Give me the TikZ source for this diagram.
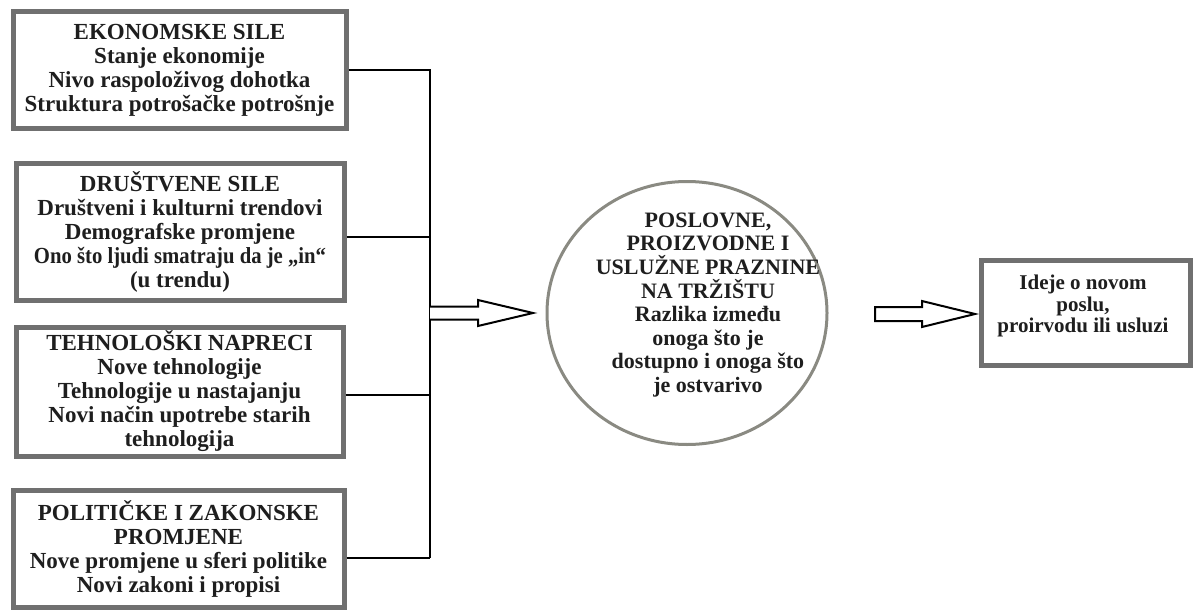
\documentclass[tikz,border=0pt]{standalone}
\usepackage{fontspec}
\setmainfont{Liberation Serif}
\usetikzlibrary{shapes.geometric}
\definecolor{boxgray}{HTML}{707070}
\definecolor{ringgray}{HTML}{8A8A82}
\definecolor{ink}{HTML}{1E1E1E}
\begin{document}
\begin{tikzpicture}[x=1pt,y=-1pt,
  forcebox/.style={draw=boxgray, line width=5pt, fill=white, inner sep=0pt, align=center,
    text=ink, font=\fontsize{23}{24}\selectfont\bfseries},
  plaintext/.style={align=center, text=ink, inner sep=0pt},
  conn/.style={draw=black, line width=2.8pt},
  hollow/.style={draw=black, line width=2pt, fill=white, line join=miter}]
\useasboundingbox (0,0) rectangle (1195,610);
% boxes
\node[forcebox, minimum width=333pt, minimum height=116pt] (b1) at (179.5,70)
  {EKONOMSKE SILE\\Stanje ekonomije\\Nivo raspoloživog dohotka\\Struktura potrošačke potrošnje};
\node[forcebox, minimum width=328pt, minimum height=137pt] (b2) at (180,231.5)
  {DRUŠTVENE SILE\\Društveni i kulturni trendovi\\Demografske promjene\\\scalebox{0.9}[1]{Ono što ljudi smatraju da je „in“}\\(u trendu)};
\node[forcebox, minimum width=327pt, minimum height=129pt] (b3) at (179.5,391.5)
  {TEHNOLOŠKI NAPRECI\\Nove tehnologije\\Tehnologije u nastajanju\\Novi način upotrebe starih\\tehnologija};
\node[forcebox, minimum width=331pt, minimum height=117pt] (b4) at (178.5,548.5)
  {POLITIČKE I ZAKONSKE\\PROMJENE\\Nove promjene u sferi politike\\Novi zakoni i propisi};
% bus
\coordinate (bustop) at (430,70);
\coordinate (j2) at (430,237);
\coordinate (j3) at (430,395);
\coordinate (busbot) at (430,558);
\draw[conn] (b1.east) -- (bustop) -- (busbot);
\draw[conn] (b2.east |- j2) -- (j2);
\draw[conn] (b3.east |- j3) -- (j3);
\draw[conn] (b4.east |- busbot) -- (busbot);
% central ellipse
\node[ellipse, draw=ringgray, line width=3pt, minimum width=280pt, minimum height=263pt, inner sep=0pt] (gap) at (687,313) {};
\node[plaintext, font=\fontsize{22}{23.6}\selectfont\bfseries] (gaptext) at (708,305)
  {POSLOVNE,\\PROIZVODNE I\\USLUŽNE PRAZNINE\\NA TRŽIŠTU\\Razlika između\\onoga što je\\dostupno i onoga što\\je ostvarivo};
% result box
\node[forcebox, minimum width=209pt, minimum height=105pt] (rb) at (1085.5,312.5) {};
\node[plaintext, font=\fontsize{21}{21.5}\selectfont\bfseries] (rbtext) at (1083,306)
  {Ideje o novom\\poslu,\\proirvodu ili usluzi};
% hollow arrows
\coordinate (a1s) at (430,313);
\coordinate (a1t) at (533,313);
\draw[hollow] (a1s) ++(0,-6.5) -- ++(48,0) -- ++(0,-6.5) -- (a1t) -- ++(-55,13) -- ++(0,-6.5) -- ++(-48,0);
\coordinate (a2s) at (875,314);
\coordinate (a2t) at (975,314);
\draw[hollow] (a2s) ++(0,-7) -- ++(47,0) -- ++(0,-6) -- (a2t) -- ++(-53,13) -- ++(0,-6) -- ++(-47,0) -- cycle;
\end{tikzpicture}
\end{document}
